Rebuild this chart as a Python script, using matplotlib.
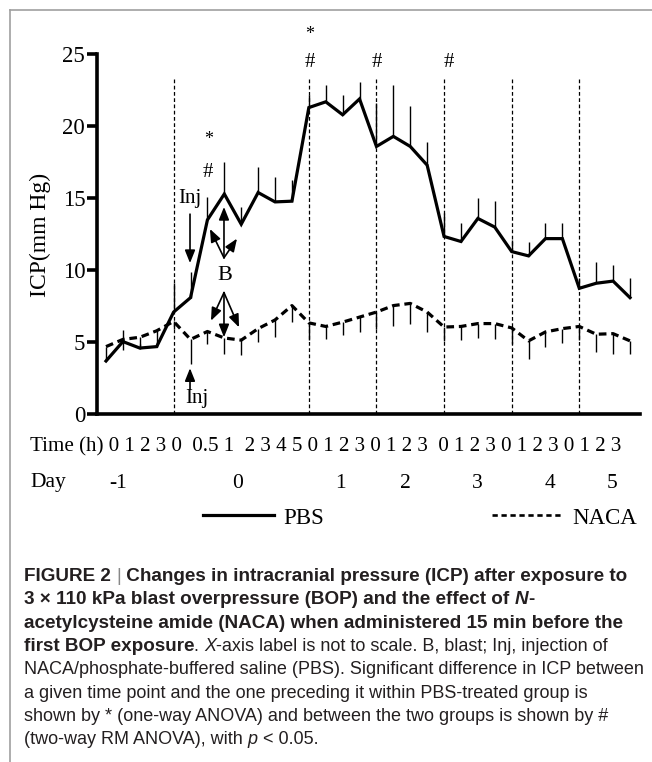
import numpy as np
import matplotlib
matplotlib.use("Agg")
import matplotlib.pyplot as plt
from matplotlib.lines import Line2D
from matplotlib.font_manager import FontProperties

#%% data (32 time points, index = position on x axis)

pbs = [3.7, 5.05, 4.6, 4.7, 7.1, 8.1, 13.5, 15.3, 13.2, 15.4, 14.75, 14.8,
       21.3, 21.7, 20.8, 21.9, 18.6, 19.3, 18.6, 17.3, 12.35, 12.0, 13.6, 13.0,
       11.3, 11.0, 12.2, 12.2, 8.75, 9.1, 9.25, 8.1]
pbs_err = [0.2, 0.8, 0.3, 0.3, 2.0, 1.75, 1.6, 2.2, 1.2, 1.75, 1.75, 1.45,
           0.9, 1.2, 1.4, 1.2, 3.0, 3.6, 2.8, 1.6, 1.6, 1.3, 1.45, 1.8,
           0.8, 1.0, 1.1, 1.1, 0.7, 1.45, 1.1, 1.4]
naca = [4.7, 5.2, 5.35, 5.8, 6.45, 5.2, 5.75, 5.3, 5.15, 5.95, 6.55, 7.55,
        6.35, 6.1, 6.4, 6.75, 7.1, 7.55, 7.7, 7.1, 6.06, 6.1, 6.3, 6.3,
        6.0, 5.1, 5.72, 5.95, 6.1, 5.56, 5.6, 5.1]
naca_err = [0.9, 0.7, 0.8, 0.9, 0.5, 1.7, 0.9, 1.1, 1.0, 0.9, 1.2, 1.15,
            1.2, 0.9, 0.9, 1.0, 1.2, 1.4, 1.4, 1.4, 1.0, 0.95, 1.0, 1.05,
            1.1, 1.27, 1.04, 0.97, 0.96, 1.23, 1.38, 0.9]

points_per_day = [4, 8, 4, 4, 4, 4, 4]
day_labels = ['-1', '0', '1', '2', '3', '4', '5']
time_labels = ['0', '1', '2', '3',
               '0', '0.5', '1', '2', '3', '4', '5',
               '0', '1', '2', '3', '0', '1', '2', '3', '0', '1', '2', '3',
               '0', '1', '2', '3', '0', '1', '2', '3']
wide_gap_before = [5, 7, 19]   # label indices preceded by a double space in the row
yticks = [0, 5, 10, 15, 20, 25]

# significance marks: (point index, symbol)
sig_marks = [(6, '*'), (6, '#'), (12, '*'), (12, '#'), (16, '#'), (20, '#')]

#%% layout (pixels of the 652x762 picture)

W, H = 652, 762
SERIF = 'Liberation Serif'
SANS = 'Liberation Sans'

fig = plt.figure(figsize=(W / 100, H / 100), dpi=100)
fig.patch.set_facecolor('white')

step_px = (630 - 106) / 31
ax = fig.add_axes([97 / W, 1 - 414.3 / H, 543 / W, 360 / H])
ax.set_xlim(-(106 - 97) / step_px, 31 + (640 - 630) / step_px)
ax.set_ylim(0, 25)

x = np.arange(len(pbs))

# day boundaries
starts = np.cumsum([0] + points_per_day[:-1])
ax.vlines(starts[1:], 0, 23.4, colors='k', linestyles=(0, (3, 2)), lw=0.9, zorder=1)

# error bars: PBS up, NACA down
ax.errorbar(x, pbs, yerr=[np.zeros(len(pbs)), pbs_err], fmt='none', ecolor='k', elinewidth=1.0, capsize=0, zorder=2)
ax.errorbar(x, naca, yerr=[naca_err, np.zeros(len(naca))], fmt='none', ecolor='k', elinewidth=1.0, capsize=0, zorder=2)

l_pbs, = ax.plot(x, pbs, color='k', lw=2.3, solid_joinstyle='miter', zorder=3, label='PBS')
l_naca, = ax.plot(x, naca, color='k', lw=2.3, linestyle=(0, (2.4, 1.5)), zorder=3, label='NACA')

for s in ['top', 'right']:
    ax.spines[s].set_visible(False)
for s in ['left', 'bottom']:
    ax.spines[s].set_linewidth(2.6)
ax.spines['left'].set_bounds(0, 25)
ax.set_xticks([])
ax.set_yticks(yticks)
ax.tick_params(axis='y', length=7, width=2.6, pad=1.5, labelsize=16.5)
for t in ax.get_yticklabels():
    t.set_fontfamily(SERIF)

# significance marks
for i, sym in sig_marks:
    if i == 6:
        ytop = 16.8 if sym == '#' else 19.1
    elif i == 12:
        ytop = 24.4 if sym == '#' else 26.4
    else:
        ytop = 24.4
    ax.text(i + (0.3 if i >= 20 else 0.05), ytop, sym, ha='center', va='center',
            family=SERIF, fontsize=15 if sym == '#' else 13, clip_on=False)

# injection and blast annotations
arrow = dict(arrowstyle='-|>,head_length=0.55,head_width=0.22', color='k', lw=1.2,
             shrinkA=0, shrinkB=0, mutation_scale=14)
ax.text(4.97, 15.0, 'Inj', ha='center', va='center', family=SERIF, fontsize=15)
ax.annotate('', xy=(4.97, 10.5), xytext=(4.97, 13.9), arrowprops=arrow)
ax.text(5.35, 1.1, 'Inj', ha='center', va='center', family=SERIF, fontsize=15)
ax.annotate('', xy=(4.97, 3.2), xytext=(4.97, 1.75), arrowprops=arrow)
ax.text(7.04, 9.64, 'B', ha='center', va='center', family=SERIF, fontsize=16)
for tip in [(6.15, 12.87), (6.98, 14.4), (7.75, 12.2)]:
    ax.annotate('', xy=tip, xytext=(6.98, 10.87), arrowprops=arrow)
for tip in [(6.21, 6.5), (6.98, 5.35), (7.87, 6.04)]:
    ax.annotate('', xy=tip, xytext=(6.98, 8.45), arrowprops=arrow)

# y label
fig.text(40 / W, 1 - 235 / H, 'ICP(mm Hg)', rotation=90, ha='center', va='center',
         family=SERIF, fontsize=17)

# time row (typed as one line of text in the original)
row = 'Time (h)'
for k, lab in enumerate(time_labels):
    row += ('  ' if k in wide_gap_before else ' ') + lab
fig.text(30 / W, 1 - 447 / H, row, ha='left', va='center', family=SERIF, fontsize=15.1)

# day row
day_px = [118, 238, 340, 405, 477, 550, 612]
fig.text(30 / W, 1 - 483 / H, 'Day', ha='left', va='center', family=SERIF, fontsize=15.5)
for lab, xp in zip(day_labels, day_px):
    fig.text(xp / W, 1 - 483 / H, lab, ha='center', va='center', family=SERIF, fontsize=15.5)

# legend (finer dashes on the NACA key, as in the original)
h_naca = Line2D([], [], color='k', lw=1.9, linestyle=(0, (2.0, 1.4)))
fig.legend(handles=[l_pbs, h_naca], labels=['PBS', 'NACA'], loc='center',
           bbox_to_anchor=(420 / W, 1 - 518 / H),
           ncol=2, frameon=False, handlelength=3.1, columnspacing=7.3, handletextpad=0.4,
           prop=FontProperties(family=SERIF, size=16.5))

# frame around the figure panel
fig.add_artist(Line2D([10 / W, 1], [1 - 10 / H, 1 - 10 / H], color='#a0a0a0', lw=1.2))
fig.add_artist(Line2D([10 / W, 10 / W], [0, 1 - 10 / H], color='#a0a0a0', lw=1.2))

#%% caption with mixed styles

renderer = fig.canvas.get_renderer()
CAP_SIZE = {'bold': 13.6, 'normal': 12.95}


def seg_width(s, fp):
    w1 = renderer.get_text_width_height_descent(s + 'l', fp, ismath=False)[0]
    w0 = renderer.get_text_width_height_descent('l', fp, ismath=False)[0]
    return w1 - w0


def draw_line(y, segs):
    xc = 24
    for s, weight, style, color in segs:
        fp = FontProperties(family=SANS, weight=weight, style=style, size=CAP_SIZE[weight])
        fig.text(xc / W, 1 - y / H, s, fontproperties=fp, color=color, ha='left', va='baseline')
        xc += seg_width(s, fp)


K = '#231f20'
caption = [
    [('FIGURE 2 ', 'bold', 'normal', K), ('|', 'normal', 'normal', '#888888'),
     (' Changes in intracranial pressure (ICP) after exposure to', 'bold', 'normal', K)],
    [('3 \u00d7 110 kPa blast overpressure (BOP) and the effect of ', 'bold', 'normal', K),
     ('N', 'bold', 'italic', K), ('-', 'bold', 'normal', K)],
    [('acetylcysteine amide (NACA) when administered 15 min before the', 'bold', 'normal', K)],
    [('first BOP exposure', 'bold', 'normal', K), ('. ', 'normal', 'normal', K),
     ('X', 'normal', 'italic', K),
     ('-axis label is not to scale. B, blast; Inj, injection of', 'normal', 'normal', K)],
    [('NACA/phosphate-buffered saline (PBS). Significant difference in ICP between', 'normal', 'normal', K)],
    [('a given time point and the one preceding it within PBS-treated group is', 'normal', 'normal', K)],
    [('shown by * (one-way ANOVA) and between the two groups is shown by #', 'normal', 'normal', K)],
    [('(two-way RM ANOVA), with ', 'normal', 'normal', K), ('p', 'normal', 'italic', K),
     (' < 0.05.', 'normal', 'normal', K)],
]
for k, segs in enumerate(caption):
    draw_line(581 + k * 23.3, segs)

fig.savefig('out.png', dpi=100)
